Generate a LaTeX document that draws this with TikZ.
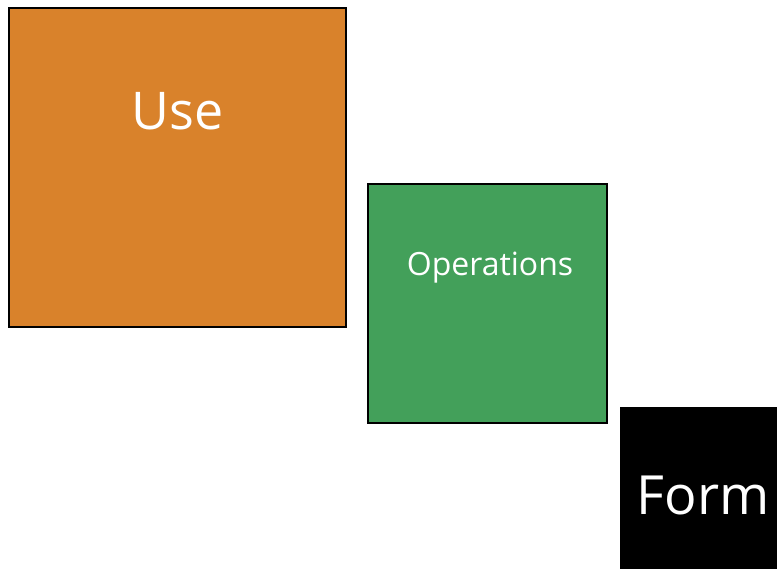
\documentclass[tikz,border=0pt]{standalone}
\usepackage{fontspec}
\setmainfont{Open Sans}
\definecolor{useorange}{HTML}{D9822B}
\definecolor{opgreen}{HTML}{43A05A}
\begin{document}
\begin{tikzpicture}[x=1pt,y=-1pt,
  panel/.style={draw=black,line width=2pt},
  label/.style={text=white,anchor=base,inner sep=0pt}]
\useasboundingbox (0,0) rectangle (777,569);
% three panels stepping down diagonally
\draw[panel,fill=useorange] (9,8) rectangle (346,327);
\draw[panel,fill=opgreen] (368,184) rectangle (607,423);
\fill[black] (620,407) rectangle (777,569);
% panel captions
\node[label,font=\fontsize{52}{54}\selectfont] (use) at (177.5,130) {Use};
\node[label,font=\fontsize{32}{35}\selectfont] (ops) at (490,276) {Operations};
\node[label,font=\fontsize{54}{56}\selectfont] (form) at (703,514) {Form};
\end{tikzpicture}
\end{document}
